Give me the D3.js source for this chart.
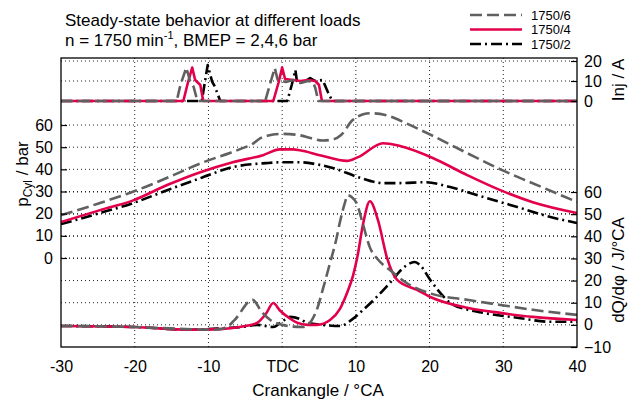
<!DOCTYPE html>
<html><head><meta charset="utf-8">
<script src="https://cdn.jsdelivr.net/npm/d3@7"></script>
<style>
html,body{margin:0;padding:0;background:#fff;}
svg{display:block;font-family:"Liberation Sans",Arial,sans-serif;}
</style></head>
<body>
<svg id="c" width="629" height="399"></svg>
<script>
// ---------- data ----------
const seriesNames = ["1750/6", "1750/4", "1750/2"];
const xTickValues = [-30, -20, -10, 0, 10, 20, 30, 40];
const xTickLabels = ["-30", "-20", "-10", "TDC", "10", "20", "30", "40"];
const pTicks = [0, 10, 20, 30, 40, 50, 60];
const qTicks = [-10, 0, 10, 20, 30, 40, 50, 60];
const iTicks = [0, 10, 20];

// cylinder pressure [°CA, bar]
const pcyl6 = [[-30,19.3],[-25,24.5],[-20,30.2],[-15,37],[-11,42.8],[-7,47.5],[-5,50],[-4,51.5],[-3,54],[-2,55.2],[0,56],[2,55.6],[4,54],[5.5,53],[7,53.6],[8,55.5],[9.5,62],[11,64.8],[12,65.3],[14,64.5],[17,60.5],[20.5,55],[25,47.5],[30,39.4],[35,32.3],[40,25.3]];
const pcyl4 = [[-30,16.2],[-24.7,21.6],[-20.2,26],[-15.6,32.9],[-11.1,38.7],[-6.7,43.2],[-2.6,46.4],[-0.3,49],[1.5,49],[2.4,48.6],[5.1,46.4],[8.8,43.8],[10.3,45.5],[13.7,51.8],[16,50.5],[20.5,45],[25.1,37.4],[29.6,30.6],[34,25.2],[40,20.3]];
const pcyl2 = [[-30,15.3],[-24.7,20.3],[-20.2,24.8],[-15.6,30.6],[-11.1,36],[-6.7,41],[-2.2,42.8],[0,43.2],[2.4,43.2],[5.1,42],[7,40.5],[10.3,36.5],[13.7,33.8],[16,33.8],[19.5,34.2],[22.8,32],[27.3,27.5],[31.9,23],[36.4,18.5],[40,15.8]];

// heat release rate [°CA, J/°CA]
const dq6 = [[-30,-0.5],[-20,-1],[-12,-2],[-9,-2.2],[-7.5,-1],[-6.5,2],[-4,11.3],[-2.8,6],[-1.6,2.2],[0,0],[1.5,-0.8],[2.8,-1],[4,2],[4.7,6.8],[5.6,17],[6.5,28],[7.3,38],[7.9,47.3],[8.5,55],[8.9,58.5],[9.5,57.5],[10.1,55],[11,45],[11.9,35],[13,29.5],[14.6,24.8],[16.9,18.9],[20.1,14.2],[25.1,11.3],[29.6,9],[34,6.8],[40,4.5]];
const dq4 = [[-30,-0.5],[-20,-1],[-12.5,-2.2],[-8,-1.8],[-6.7,-1.4],[-5,-0.5],[-3.4,0.9],[-2.2,5],[-1.2,9.9],[-0.3,6.5],[1,3],[2,1],[3.5,0],[4.7,0],[6.5,2.2],[7.8,7],[8.8,14.4],[9.6,22],[10.2,30.6],[11,45.9],[11.9,55.8],[13,47.3],[14.2,30.6],[15.6,20.3],[18.3,15.8],[20.1,12.6],[25.1,7.7],[29.6,5.4],[34,3.6],[40,2.2]];
const dq2 = [[-30,-0.5],[-20,-1],[-12.5,-2.2],[-8,-1.5],[-5,-0.8],[-3.4,0],[-1.2,-1],[0,1.5],[1.1,3.6],[2.5,2.5],[3.4,0.9],[5.5,0],[7.9,-0.5],[9.5,2.5],[11,6.8],[12.8,12.5],[14.6,18.9],[16.2,25],[17.4,27.9],[18,28.4],[18.7,27],[20.1,20.3],[21.3,15],[22.8,9.9],[25,7],[27.3,5.4],[31.9,3.2],[36.4,1.4],[40,1.4]];

// injector current [°CA, A]
const inj6 = [[-30,0],[-14.3,0],[-13.8,8],[-13.0,16.7],[-12.5,10],[-12.0,7],[-11.5,0],[-2.3,0],[-1.6,9],[-1.0,16.5],[-0.6,10.5],[0.5,9.5],[1.5,10.5],[2.5,9],[3.5,10],[4.2,9.5],[4.5,6.5],[4.9,0],[40,0]];
const inj4 = [[-30,0],[-13.4,0],[-12.8,9],[-12.2,16.7],[-11.8,10.5],[-11.1,8],[-10.7,0],[-1.2,0],[-0.5,9],[0.0,16.7],[0.4,11],[1.5,10.5],[2.5,10],[3.5,10.5],[4.5,10],[5.0,8],[5.4,0],[40,0]];
const inj2 = [[-30,0],[-10.9,0],[-10.5,9],[-10.1,18],[-9.5,9.7],[-9.1,7],[-8.4,0],[0.7,0],[1.3,8],[1.8,15.5],[2.0,10],[3,9.5],[3.8,11.5],[4.5,10],[5.5,10.5],[6.2,4.5],[6.8,0],[40,0]];

// ---------- drawing ----------
const svg = d3.select("#c");
const L = 61, R = 577, T = 58, B = 347;
const x = d3.scaleLinear([-30, 40], [L, R]);
const yP = d3.scaleLinear([0, 60], [258, 125]);
const yQ = d3.scaleLinear([-10, 60], [B, 192]);
const yI = d3.scaleLinear([0, 20], [101, 61]);

const styles = {
  "1750/6": {color: "#606060", dash: "12,5"},
  "1750/4": {color: "#e3004a", dash: null},
  "1750/2": {color: "#000000", dash: "11,4,2,4"}
};

// grid
const grid = svg.append("g").attr("stroke", "#222").attr("stroke-width", 1).attr("stroke-dasharray", "1,3");
xTickValues.slice(1, -1).forEach(v => {
  grid.append("line").attr("x1", x(v)).attr("x2", x(v)).attr("y1", T).attr("y2", B);
});
const hy = [];
pTicks.forEach(v => hy.push(yP(v)));
qTicks.forEach(v => hy.push(yQ(v)));
iTicks.forEach(v => hy.push(yI(v)));
hy.filter(y => y > T + 1 && y < B - 1).forEach(y => {
  grid.append("line").attr("x1", L).attr("x2", R).attr("y1", y).attr("y2", y);
});

// clip
svg.append("clipPath").attr("id", "clip").append("rect").attr("x", L).attr("y", T).attr("width", R - L).attr("height", B - T);
const plot = svg.append("g").attr("clip-path", "url(#clip)");

function draw(data, yScale, name, curve) {
  const st = styles[name];
  const line = d3.line().x(d => x(d[0])).y(d => yScale(d[1])).curve(curve);
  plot.append("path").attr("d", line(data)).attr("fill", "none")
    .attr("stroke", st.color).attr("stroke-width", 2.6)
    .attr("stroke-dasharray", st.dash).attr("stroke-linejoin", "round");
}
const mono = d3.curveMonotoneX;
// draw order: 1750/2, 1750/4, 1750/6
draw(inj2, yI, "1750/2", d3.curveLinear);
draw(inj4, yI, "1750/4", d3.curveLinear);
draw(inj6, yI, "1750/6", d3.curveLinear);
draw(pcyl2, yP, "1750/2", mono);
draw(pcyl4, yP, "1750/4", mono);
draw(pcyl6, yP, "1750/6", mono);
draw(dq2, yQ, "1750/2", mono);
draw(dq4, yQ, "1750/4", mono);
draw(dq6, yQ, "1750/6", mono);

// frame
svg.append("rect").attr("x", L).attr("y", T).attr("width", R - L).attr("height", B - T)
  .attr("fill", "none").attr("stroke", "#000").attr("stroke-width", 1.3);

// axes
const fs = 16;
const xAxis = d3.axisBottom(x).tickValues(xTickValues).tickSize(0).tickPadding(14)
  .tickFormat((d, i) => xTickLabels[i]);
const gx = svg.append("g").attr("transform", `translate(0,${B})`).call(xAxis);
const leftAxis = d3.axisLeft(yP).tickValues(pTicks).tickSize(-6).tickPadding(8).tickFormat(d3.format("d"));
const gl = svg.append("g").attr("transform", `translate(${L},0)`).call(leftAxis);
const rightQ = d3.axisRight(yQ).tickValues(qTicks).tickSize(-6).tickPadding(7).tickFormat(d3.format("d"));
const gq = svg.append("g").attr("transform", `translate(${R},0)`).call(rightQ);
const rightI = d3.axisRight(yI).tickValues(iTicks).tickSize(-6).tickPadding(7).tickFormat(d3.format("d"));
const gi = svg.append("g").attr("transform", `translate(${R},0)`).call(rightI);
[gx, gl, gq, gi].forEach(g => {
  g.select(".domain").remove();
  g.selectAll("text").attr("font-size", fs).attr("font-family", '"Liberation Sans",Arial,sans-serif').attr("fill", "#000");
  g.selectAll("line").attr("stroke", "#000").attr("stroke-width", 1.2);
});

// axis titles
svg.append("text").attr("x", 318).attr("y", 396).attr("text-anchor", "middle")
  .attr("font-size", 17).text("Crankangle / °CA");
const pl = svg.append("text").attr("transform", "translate(28,174) rotate(-90)").attr("text-anchor", "middle").attr("font-size", 17);
pl.append("tspan").text("p");
pl.append("tspan").attr("font-size", 12).attr("dy", 4).text("Cyl");
pl.append("tspan").attr("dy", -4).text(" / bar");
svg.append("text").attr("transform", "translate(624,80) rotate(-90)").attr("text-anchor", "middle")
  .attr("font-size", 17).text("Inj / A");
svg.append("text").attr("transform", "translate(624,270) rotate(-90)").attr("text-anchor", "middle")
  .attr("font-size", 17).text("dQ/dφ / J/°CA");

// title
svg.append("text").attr("x", 65).attr("y", 26).attr("font-size", 17).text("Steady-state behavior at different loads");
const t2 = svg.append("text").attr("x", 65).attr("y", 46).attr("font-size", 17);
t2.append("tspan").text("n = 1750 min");
t2.append("tspan").attr("font-size", 11).attr("dy", -7).text("-1");
t2.append("tspan").attr("dy", 7).text(", BMEP = 2,4,6 bar");

// legend
const legY = [15, 29.5, 44];
seriesNames.forEach((n, i) => {
  const st = styles[n];
  svg.append("line").attr("x1", 470).attr("x2", 522).attr("y1", legY[i]).attr("y2", legY[i])
    .attr("stroke", st.color).attr("stroke-width", 2.6).attr("stroke-dasharray", st.dash);
  svg.append("text").attr("x", 531).attr("y", legY[i] + 4.5).attr("font-size", 13).text(n);
});
</script>
</body></html>
